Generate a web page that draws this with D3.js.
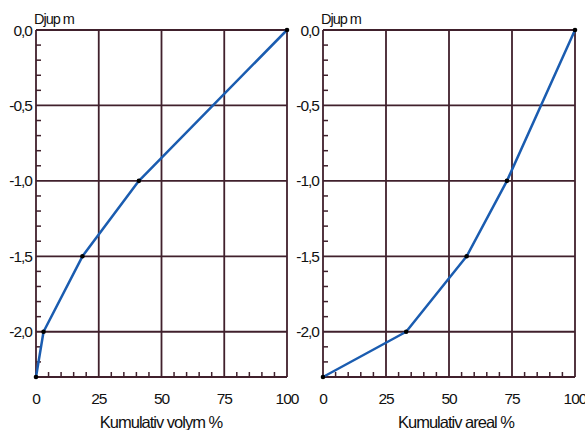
<!DOCTYPE html>
<html>
<head>
<meta charset="utf-8">
<script src="https://cdn.jsdelivr.net/npm/d3@7"></script>
<style>
  body { margin: 0; background: #fff; }
  text { font-family: "Liberation Sans", Arial, sans-serif; fill: #111; }
</style>
</head>
<body>
<div class="chart"></div>
<script>
// depth values (m) and cumulative percentages
var depths = [0, -1.0, -1.5, -2.0, -2.3];
var volymPct = [100, 41, 18.5, 3, 0];
var arealPct = [100, 73, 57, 33, 0];

var xTicks = [0, 25, 50, 75, 100];
var yTicks = [0, -0.5, -1.0, -1.5, -2.0];
var yLabel = 'Djup m';
var xLabels = ['Kumulativ volym %', 'Kumulativ areal %'];

var gridColor = '#40202c';

var svg = d3.select('.chart')
  .append('svg')
  .attr('width', 585)
  .attr('height', 430);

// y scale shared by both panels
var y = d3.scaleLinear().domain([-2.3, 0]).range([377, 30]);

var fmt = function(d) { return d3.format('.1f')(d).replace('.', ',').replace('−', '-'); };

function drawPanel(x0, x1, values, title, labelX) {
  var x = d3.scaleLinear().domain([0, 100]).range([x0, x1]);
  var g = svg.append('g');

  // minor ticks, inward
  var minorX = d3.range(5, 100, 5).filter(function(d) { return d % 25 !== 0; });
  g.selectAll('.mx').data(minorX).enter().append('line')
    .attr('x1', function(d) { return x(d); }).attr('x2', function(d) { return x(d); })
    .attr('y1', y(-2.3)).attr('y2', y(-2.3) - 5)
    .attr('stroke', gridColor).attr('stroke-width', 1.5);

  var minorY = d3.range(1, 23).map(function(i) { return -i / 10; })
    .filter(function(d) { return Math.round(d * 10) % 5 !== 0; });
  g.selectAll('.my').data(minorY).enter().append('line')
    .attr('x1', x0).attr('x2', x0 + 5)
    .attr('y1', function(d) { return y(d); }).attr('y2', function(d) { return y(d); })
    .attr('stroke', gridColor).attr('stroke-width', 1.5);

  // grid lines
  g.selectAll('.gx').data(xTicks.slice(1)).enter().append('line')
    .attr('x1', function(d) { return x(d); }).attr('x2', function(d) { return x(d); })
    .attr('y1', y(0)).attr('y2', y(-2.3))
    .attr('stroke', gridColor).attr('stroke-width', 1.8);
  g.selectAll('.gy').data(yTicks).enter().append('line')
    .attr('x1', x0).attr('x2', x1)
    .attr('y1', function(d) { return y(d); }).attr('y2', function(d) { return y(d); })
    .attr('stroke', gridColor).attr('stroke-width', 1.8);

  // axis lines
  g.append('line').attr('x1', x0).attr('x2', x0).attr('y1', y(0)).attr('y2', y(-2.3))
    .attr('stroke', gridColor).attr('stroke-width', 1.8);
  g.append('line').attr('x1', x0).attr('x2', x1).attr('y1', y(-2.3)).attr('y2', y(-2.3))
    .attr('stroke', gridColor).attr('stroke-width', 1.8);

  // tick labels
  g.selectAll('.ly').data(yTicks).enter().append('text')
    .attr('x', x0 - 4).attr('y', function(d) { return y(d) + 5.5; })
    .attr('text-anchor', 'end').attr('font-size', 15.5).attr('letter-spacing', -1)
    .text(fmt);
  g.selectAll('.lx').data(xTicks).enter().append('text')
    .attr('x', function(d) { return x(d); }).attr('y', 404)
    .attr('text-anchor', 'middle').attr('font-size', 15.5).attr('letter-spacing', -1)
    .text(function(d) { return d; });

  g.append('text').attr('x', x0 - 2).attr('y', 24)
    .attr('font-size', 14.5).attr('letter-spacing', -1).text(yLabel);
  g.append('text').attr('x', labelX).attr('y', 428)
    .attr('text-anchor', 'middle').attr('font-size', 16.5).attr('letter-spacing', -1)
    .text(title);

  // data line
  var pts = values.map(function(v, i) { return [v, depths[i]]; });
  var line = d3.line()
    .x(function(d) { return x(d[0]); })
    .y(function(d) { return y(d[1]); });
  g.append('path').datum(pts)
    .attr('d', line)
    .attr('fill', 'none')
    .attr('stroke', '#1a5cb0')
    .attr('stroke-width', 2.5)
    .attr('stroke-linejoin', 'round');
  g.selectAll('.pt').data(pts).enter().append('circle')
    .attr('cx', function(d) { return x(d[0]); })
    .attr('cy', function(d) { return y(d[1]); })
    .attr('r', 2.3)
    .attr('fill', '#000');
}

drawPanel(36, 287, volymPct, xLabels[0], 161);
drawPanel(323, 575, arealPct, xLabels[1], 456);
</script>
</body>
</html>
